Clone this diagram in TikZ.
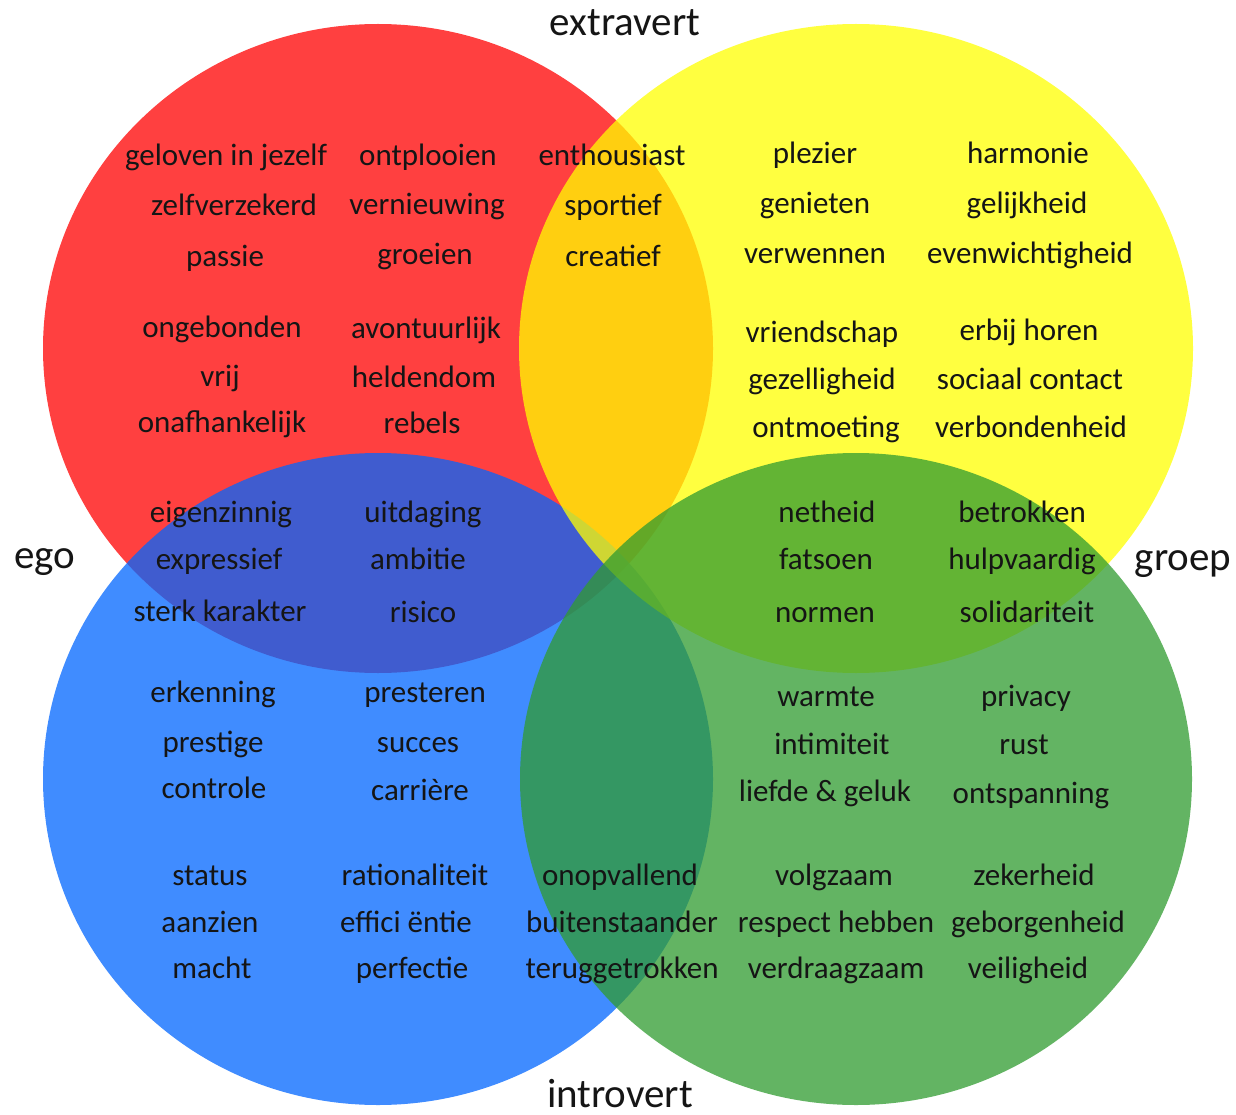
\documentclass[tikz,border=0pt]{standalone}
\usepackage{fontspec}
\setmainfont{Carlito}
\definecolor{cred}{HTML}{FF0000}
\definecolor{cblue}{HTML}{0066FF}
\definecolor{cyellow}{HTML}{FFFF00}
\definecolor{cgreen}{HTML}{309B30}
\definecolor{ink}{HTML}{151515}
\begin{document}
\begin{tikzpicture}[x=1pt,y=-1pt,
  disc/.style={fill opacity=0.75},
  word/.style={anchor=base,inner sep=0pt,text=ink,font=\fontsize{31}{36}\selectfont},
  axis/.style={anchor=base,inner sep=0pt,text=ink,font=\fontsize{41}{48}\selectfont}]
\useasboundingbox (0,0) rectangle (1236,1115);
\fill[white] (0,0) rectangle (1236,1115);

% the four value circles, layered red, blue, yellow, green
\fill[disc,cred]    (378,348.5) ellipse [x radius=335,y radius=324.5];
\fill[disc,cblue]   (378,779)   ellipse [x radius=335,y radius=326];
\fill[disc,cyellow] (856,348.5) ellipse [x radius=337,y radius=324.5];
\fill[disc,cgreen]  (856,779)   ellipse [x radius=336,y radius=326];

% axis labels
\node[axis] (extravert) at (625,36)   {extravert};
\node[axis] (ego)       at (45,568)   {ego};
\node[axis] (groep)     at (1183,570) {groep};
\node[axis] (introvert) at (620,1107) {introvert};

% red: ego + extravert
\node[word] (r1) at (226,166) {geloven in jezelf};
\node[word] (r2) at (234,216) {zelfverzekerd};
\node[word] (r3) at (225,266) {passie};
\node[word] (r4) at (222,337) {ongebonden};
\node[word] (r5) at (220,386) {vrij};
\node[word] (r6) at (222,432) {onafhankelijk};
\node[word] (r7) at (428,166) {ontplooien};
\node[word] (r8) at (427,215) {vernieuwing};
\node[word] (r9) at (425,265) {groeien};
\node[word] (r10) at (426,338) {avontuurlijk};
\node[word] (r11) at (424,387) {heldendom};
\node[word] (r12) at (422,433) {rebels};

% red + yellow
\node[word] (o1) at (612,166) {enthousiast};
\node[word] (o2) at (613,216) {sportief};
\node[word] (o3) at (613,266) {creatief};

% yellow: groep + extravert
\node[word] (y1) at (815,164) {plezier};
\node[word] (y2) at (815,214) {genieten};
\node[word] (y3) at (815,264) {verwennen};
\node[word] (y4) at (822,342) {vriendschap};
\node[word] (y5) at (822,389) {gezelligheid};
\node[word] (y6) at (826,437) {ontmoeting};
\node[word] (y7) at (1028,164) {harmonie};
\node[word] (y8) at (1027,214) {gelijkheid};
\node[word] (y9) at (1030,264) {evenwichtigheid};
\node[word] (y10) at (1029,340) {erbij horen};
\node[word] (y11) at (1030,389) {sociaal contact};
\node[word] (y12) at (1031,437) {verbondenheid};

% red + blue
\node[word] (rb1) at (221,522) {eigenzinnig};
\node[word] (rb2) at (219,569) {expressief};
\node[word] (rb3) at (220,621) {sterk karakter};
\node[word] (rb4) at (423,522) {uitdaging};
\node[word] (rb5) at (418,569) {ambitie};
\node[word] (rb6) at (423,622) {risico};

% yellow + green
\node[word] (yg1) at (827,522) {netheid};
\node[word] (yg2) at (826,569) {fatsoen};
\node[word] (yg3) at (825,622) {normen};
\node[word] (yg4) at (1022,522) {betrokken};
\node[word] (yg5) at (1022,569) {hulpvaardig};
\node[word] (yg6) at (1027,622) {solidariteit};

% blue: ego + introvert
\node[word] (b1) at (213,702) {erkenning};
\node[word] (b2) at (213,752) {prestige};
\node[word] (b3) at (214,798) {controle};
\node[word] (b4) at (425,702) {presteren};
\node[word] (b5) at (418,752) {succes};
\node[word] (b6) at (420,800) {carrière};
\node[word] (b7) at (210,885) {status};
\node[word] (b8) at (210,932) {aanzien};
\node[word] (b9) at (212,978) {macht};
\node[word] (b10) at (415,885) {rationaliteit};
\node[word] (b11) at (406,932) {effici ëntie};
\node[word] (b12) at (412,978) {perfectie};

% blue + green
\node[word] (bg1) at (620,885) {onopvallend};
\node[word] (bg2) at (622,932) {buitenstaander};
\node[word] (bg3) at (622,978) {teruggetrokken};

% green: groep + introvert
\node[word] (g1) at (826,706) {warmte};
\node[word] (g2) at (832,754) {intimiteit};
\node[word] (g3) at (825,801) {liefde \& geluk};
\node[word] (g4) at (1026,706) {privacy};
\node[word] (g5) at (1024,754) {rust};
\node[word] (g6) at (1031,803) {ontspanning};
\node[word] (g7) at (834,885) {volgzaam};
\node[word] (g8) at (836,932) {respect hebben};
\node[word] (g9) at (836,978) {verdraagzaam};
\node[word] (g10) at (1034,885) {zekerheid};
\node[word] (g11) at (1038,932) {geborgenheid};
\node[word] (g12) at (1028,978) {veiligheid};
\end{tikzpicture}
\end{document}
